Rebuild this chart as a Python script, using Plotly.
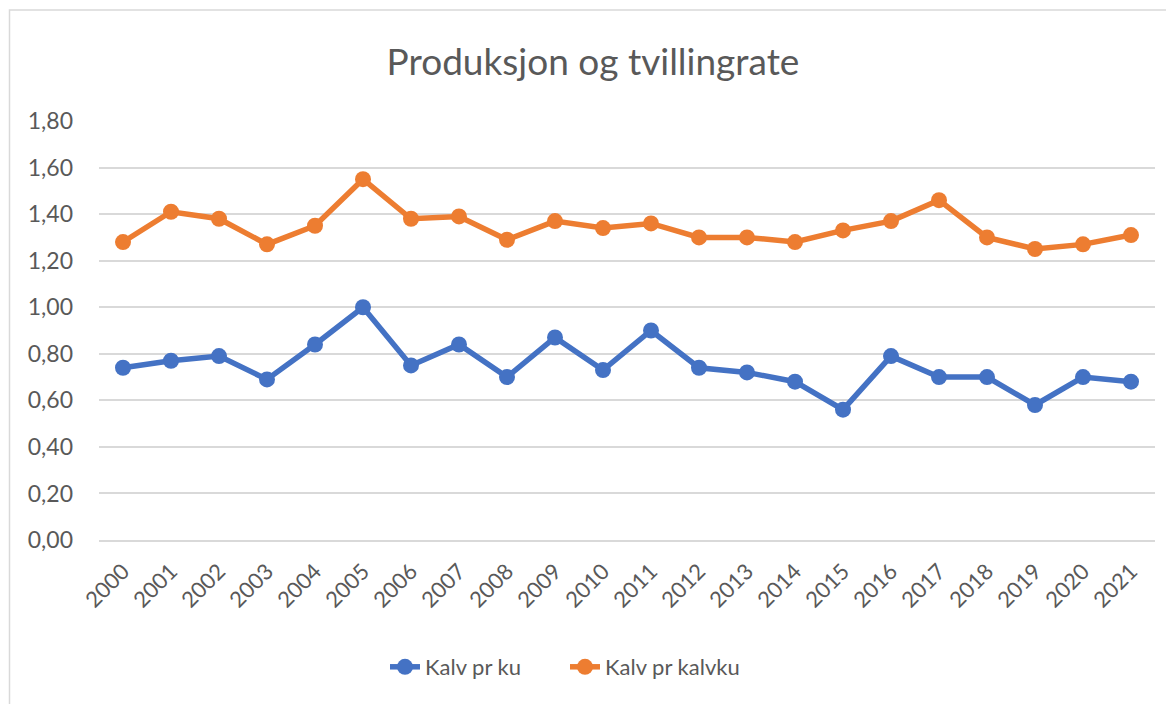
import plotly.graph_objects as go

years = [str(y) for y in range(2000, 2022)]
kalv_pr_ku = [0.74, 0.77, 0.79, 0.69, 0.84, 1.00, 0.75, 0.84, 0.70, 0.87, 0.73, 0.90,
              0.74, 0.72, 0.68, 0.56, 0.79, 0.70, 0.70, 0.58, 0.70, 0.68]
kalv_pr_kalvku = [1.28, 1.41, 1.38, 1.27, 1.35, 1.55, 1.38, 1.39, 1.29, 1.37, 1.34, 1.36,
                  1.30, 1.30, 1.28, 1.33, 1.37, 1.46, 1.30, 1.25, 1.27, 1.31]
y_ticks = [0, 0.2, 0.4, 0.6, 0.8, 1.0, 1.2, 1.4, 1.6, 1.8]

TXT = "#595959"
FONT = "Lato"

# page body has an 8px margin; plot area target in page px: x 99-1155, y 121-540
W, H = 1166, 696
L, T, R, B = 91, 113, 19, 164
PW, PH = W - L - R, H - T - B

fig = go.Figure()
fig.add_trace(go.Scatter(x=years, y=kalv_pr_ku, name="Kalv pr ku", mode="lines+markers",
                         line=dict(color="#4472C4", width=5.5),
                         marker=dict(color="#4472C4", size=16)))
fig.add_trace(go.Scatter(x=years, y=kalv_pr_kalvku, name="Kalv pr kalvku", mode="lines+markers",
                         line=dict(color="#ED7D31", width=5.5),
                         marker=dict(color="#ED7D31", size=16)))

fig.update_layout(
    width=W, height=H,
    margin=dict(l=L, r=R, t=T, b=B),
    paper_bgcolor="white", plot_bgcolor="white",
    separators=", ",
    font=dict(family=FONT, color=TXT, size=22),
    title=dict(text="Produksjon og tvillingrate", x=(593 - 8) / W, xanchor="center",
               y=1 - (62 - 8) / H, yanchor="middle",
               font=dict(family=FONT, size=37, color=TXT)),
    showlegend=True,
    legend=dict(orientation="h", x=(385 - 99) / PW, xanchor="left",
                y=-(667 - 540) / PH, yanchor="middle",
                font=dict(family=FONT, size=22, color=TXT), entrywidth=135),
    xaxis=dict(type="category", range=[-0.5, 21.5], tickangle=-45,
               showgrid=False, showline=True, linecolor="#D9D9D9", linewidth=1.5,
               ticks="", ticklabelstandoff=8, tickfont=dict(size=22, color=TXT)),
    yaxis=dict(range=[0, 1.8], tickvals=y_ticks, tickformat=".2f",
               showgrid=True, gridcolor="#D9D9D9", gridwidth=1.5,
               zeroline=False, showline=False, ticks="", ticklabelstandoff=25,
               tickfont=dict(size=23, color=TXT)),
    shapes=[dict(type="rect", xref="paper", yref="paper",
                 x0=(9.5 - 99) / PW, x1=1.2, y0=-0.6, y1=(540 - 10) / PH,
                 line=dict(color="#D9D9D9", width=1.5), fillcolor="rgba(0,0,0,0)", layer="below")],
)

fig.write_html("out.html")
